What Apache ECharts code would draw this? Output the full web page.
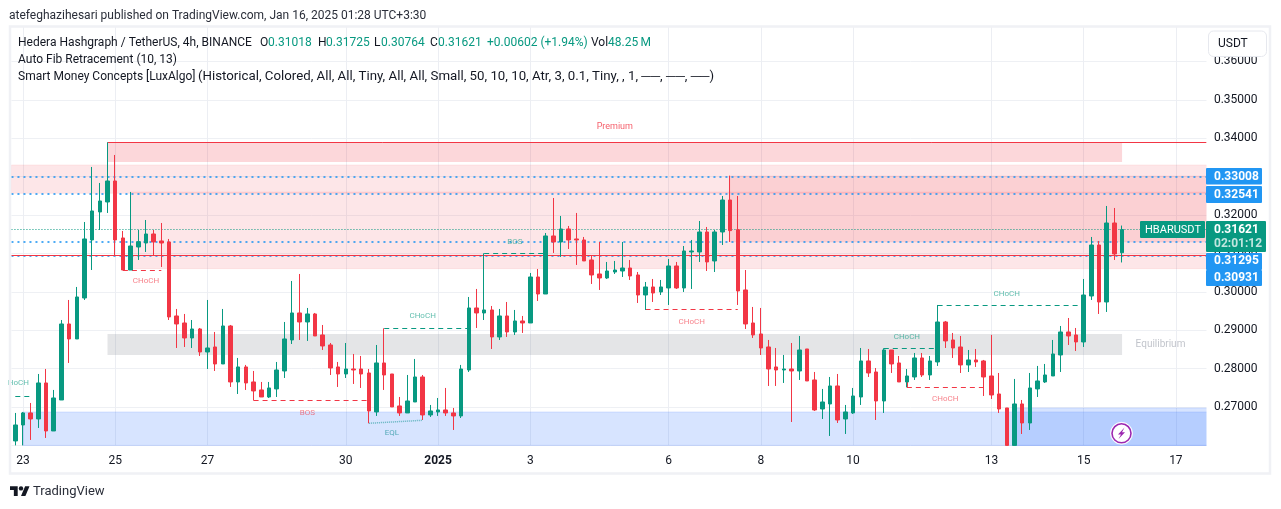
<!DOCTYPE html>
<html><head><meta charset="utf-8">
<style>html,body{margin:0;padding:0;background:#fff}#c{width:1281px;height:509px}</style>
<script src="https://cdn.jsdelivr.net/npm/echarts@6/dist/echarts.min.js"></script>
</head><body><div id="c"></div>
<script>
const opens=[.26116,.26532,.26845,.26688,.27626,.26376,.27183,.29162,.28772,.29839,
.31350,.32079,.32339,.32886,.31402,.30568,.31167,.31271,.31506,.31324,
.31298,.29371,.29188,.28798,.29032,.28433,.28563,.28121,.29110,.27652,
.28043,.27652,.27444,.27261,.27470,.27938,.28746,.29449,.29214,.29423,
.28876,.28615,.28043,.27860,.27990,.27990,.27886,.26871,.28147,.27860,
.27027,.26845,.27131,.27782,.26793,.26871,.26923,.26845,.26767,.27964,
.29579,.29449,.29527,.28824,.29371,.28954,.29240,.29188,.30386,.29943,
.31454,.31298,.31636,.31376,.31350,.30829,.30464,.30360,.30516,.30542,
.30620,.30438,.29917,.30126,.29996,.30100,.30673,.30100,.31037,.31037,
.31558,.30803,.31558,.32391,.31619,.30048,.29188,.28902,.28563,.28043,
.27964,.27990,.27938,.28511,.27704,.26949,.27079,.27548,.26688,.26845,
.27261,.28199,.27912,.27157,.28485,.28147,.27652,.27782,.28277,.27834,
.28173,.29214,.28746,.28563,.28095,.28225,.28199,.27808,.27339,.26975,
.26000,.27079,.26584,.27470,.27652,.27808,.28355,.28954,.28876,.28694,
.29891,.31219,.29735,.31792,.31018];
const closes=[.26532,.26845,.26688,.27626,.26376,.27235,.29162,.28772,.29865,.31376,
.32105,.32365,.32886,.31350,.30568,.31193,.31306,.31506,.31298,.31271,
.29345,.29162,.28798,.29032,.28433,.28537,.28121,.29110,.27652,.28043,
.27626,.27418,.27261,.27496,.27964,.28772,.29449,.29214,.29423,.28850,
.28589,.28016,.27860,.27990,.27964,.27860,.26897,.28147,.27834,.27001,
.26845,.27157,.27782,.26793,.26897,.26923,.26845,.26767,.27990,.29579,
.29449,.29527,.28824,.29371,.28954,.29240,.29188,.30386,.29943,.31454,
.31298,.31636,.31350,.31350,.30803,.30438,.30360,.30542,.30568,.30620,
.30412,.29917,.30126,.29969,.30126,.30673,.30100,.31063,.31063,.31558,
.30777,.31558,.32391,.31593,.30022,.29162,.28876,.28537,.27990,.27964,
.27990,.27938,.28485,.27678,.26923,.27131,.27548,.26662,.26871,.27287,
.28199,.27886,.27157,.28485,.28121,.27652,.27808,.28277,.27834,.28199,
.29214,.28720,.28537,.28095,.28225,.28173,.27782,.27313,.26949,.26000,
.27079,.26584,.27496,.27678,.27834,.28381,.28954,.28850,.28694,.29917,
.31219,.29735,.31792,.30985,.31621];
const lows=[.26000,.26000,.26142,.26454,.26194,.26376,.27183,.28147,.28772,.29787,
.30568,.31610,.32053,.30933,.30568,.30568,.30829,.31037,.30933,.30647,
.29266,.28537,.28563,.28537,.28329,.27990,.27938,.28121,.27522,.27339,
.27444,.27175,.27261,.27235,.27261,.27756,.28641,.28746,.28720,.28850,
.28485,.27834,.27522,.27756,.27600,.27496,.26576,.26767,.27444,.27001,
.26767,.26845,.27131,.26662,.26741,.26767,.26767,.26402,.26714,.27912,
.29058,.29266,.28511,.28746,.28824,.28876,.28928,.29188,.29761,.29943,
.31011,.30907,.31115,.30699,.30803,.30204,.30048,.30334,.30464,.30386,
.30308,.29709,.29527,.29735,.29917,.29657,.30074,.29996,.30074,.30777,
.30542,.30516,.31219,.31298,.29657,.29032,.28798,.28355,.27548,.27548,
.27626,.26610,.27704,.27678,.26897,.26688,.26246,.26584,.26298,.26819,
.27053,.27782,.26662,.26845,.27886,.27652,.27513,.27704,.27782,.27704,
.28069,.28537,.28277,.27886,.27912,.28043,.27287,.27209,.26845,.26000,
.26000,.26298,.26402,.27261,.27626,.27808,.27912,.28615,.28459,.28563,
.29787,.29423,.29475,.30829,.30764];
const highs=[.26845,.26871,.27105,.27860,.27990,.27444,.29266,.29787,.30126,.31818,
.33251,.32834,.33893,.33563,.31584,.32600,.31610,.31870,.31610,.31792,
.31376,.29553,.29423,.29266,.29058,.29787,.28954,.29553,.29136,.28277,
.28095,.27938,.27652,.27652,.28173,.29214,.30282,.30464,.29579,.29449,
.29136,.28667,.28173,.28667,.28381,.28329,.27990,.28615,.29049,.27860,
.27261,.27834,.28251,.27834,.27053,.27235,.27496,.26975,.28095,.29865,
.30074,.31002,.29631,.29553,.29735,.29527,.29371,.30490,.30594,.31532,
.32443,.31975,.31714,.32053,.31428,.30933,.31298,.30777,.30803,.31298,
.30829,.30516,.30256,.30334,.30308,.30855,.30777,.31193,.31350,.31844,
.31688,.31610,.32495,.33025,.32495,.30568,.29605,.29579,.28746,.28537,
.28355,.28667,.28850,.28511,.27912,.27470,.27782,.27860,.27053,.27496,
.28537,.28511,.28016,.28529,.28485,.28329,.27990,.28407,.28407,.28329,
.29657,.29240,.28928,.28850,.28485,.28511,.28225,.28876,.27886,.26975,
.27730,.27183,.27886,.28069,.28121,.28746,.29110,.29318,.29058,.30334,
.31428,.31324,.32235,.32183,.31725];

const barCount=156;
const tickBars=[1,13,25,43,55,67,85,97,109,127,139,151];
const tickLabels=['23','25','27','30','2025','3','6','8','10','13','15','17'];
const priceLevels=[.33008,.32541,.31295,.30931];
const lastPrice=.31621, redLevel=.30950, premiumTop=.33900;
// [from bar, to bar (null = pane edge), top, bottom, kind]
const zones=[
 [null,null,.33303,.32565,'fib'],
 [15,null,.32600,.30603,'fib'],
 [93,null,.33016,.31298,'fib'],
 [12,144,.33900,.33381,'premium'],
 [12,144,.28902,.28355,'eq'],
 [1,null,.26871,.26,'disc'],
 [130,null,.26975,.26,'disc']
];
// [from bar, to bar, from value, to value, kind]
const segments=[
 [12,155,premiumTop,premiumTop,'rs'],
 [0,2,.27279,.27279,'gd'],
 [14,19,.30560,.30560,'rd'],
 [31,46,.27175,.27175,'rd'],
 [31,31,.27444,.27175,'rd'],
 [48,59,.29049,.29049,'gd'],
 [46,53,.26576,.26654,'eql'],
 [61,69,.31002,.31002,'gd'],
 [82,94,.29544,.29544,'rd'],
 [82,82,.29917,.29544,'rd'],
 [113,120,.28520,.28520,'gd'],
 [116,126,.27513,.27513,'rd'],
 [116,116,.27652,.27513,'rd'],
 [120,139,.29648,.29648,'gd']
];
// [bar, value, text, kind]
const notes=[
 [78,.34292,'Premium','p'],[149,.28615,'Equilibrium','e'],[0,.27625,'HoCH','g'],
 [17,.30281,'CHoCH','r'],[38,.26844,'BOS','r'],[53,.29370,'CHoCH','g'],[49,.26323,'EQL','t'],
 [65,.31297,'BOS','g'],[88,.29214,'CHoCH','r'],[116,.28823,'CHoCH','g'],[121,.27208,'CHoCH','r'],[129,.29943,'CHoCH','g']
];
const headerTitle='atefeghazihesari published on TradingView.com, Jan 16, 2025 01:28 UTC+3:30';
const legendLine2='Auto Fib Retracement (10, 13)';
const legendLine3a='Smart Money Concepts [LuxAlgo]';
const legendLine3b='(Historical, Colored, All, All, Tiny, All, All, Small, 50, 10, 10, Atr, 3, 0.1, Tiny, , 1, ──, ──, ──)';

const UP='#089981',DOWN='#F23645',BLUE='#2196F3',INK='#131722',FONT='Roboto';
const categories=Array.from({length:barCount},(_,i)=>String(i));
const candles=opens.map((o,i)=>[o,closes[i],lows[i],highs[i]]);
const zoneStyle={fib:{color:'rgba(242,54,69,.125)',borderColor:'rgba(242,54,69,.08)',borderWidth:1},
 premium:{color:'rgba(242,54,69,.2)'},eq:{color:'rgba(120,123,134,.2)'},
 disc:{color:'rgba(41,110,255,.19)',borderColor:'rgba(41,98,255,.15)',borderWidth:1}};
const segStyle={rs:{color:DOWN,type:'solid',width:1},gd:{color:UP,type:[5,4],width:1},rd:{color:DOWN,type:[5,4],width:1},eql:{color:'#5fb3bd',type:[1,1],width:1.5}};
const noteColor={p:DOWN,r:'rgba(242,54,69,.8)',g:'rgba(8,153,129,.8)',t:'rgba(20,140,150,.85)',e:'#B2B5BE'};

const legendItem=(x,y,text,fill)=>({type:'text',z:100,style:{x,y,text,fill:fill||INK,font:'12px '+FONT,textVerticalAlign:'middle'}});
const tag=(x,y,w,h,color)=>({type:'rect',z:90,shape:{x,y,width:w,height:h,r:1},style:{fill:color}});
const tagText=(x,y,text,fill,font)=>({type:'text',z:91,style:{x,y,text,fill:fill||'#fff',font:(font||'bold 12px')+' '+FONT,textVerticalAlign:'middle'}});

const graphic=[
 {type:'rect',z:80,shape:{x:0,y:0,width:1281,height:26},style:{fill:'#fff'}},
 {type:'rect',z:80,shape:{x:1206.5,y:20,width:7,height:430},style:{fill:'#fff'}},
 {type:'rect',z:81,shape:{x:10,y:26.5,width:1260,height:447},style:{fill:'none',stroke:'#F0F1F5',lineWidth:2.5}},
 {type:'rect',z:90,shape:{x:1208.5,y:31,width:58,height:25.5,r:5},style:{fill:'#fff',stroke:'#E6E8EE',lineWidth:1}},
 {type:'text',z:91,style:{x:1218,y:44,text:'USDT',fill:INK,font:'12px '+FONT,textVerticalAlign:'middle'}},
 legendItem(9,16,headerTitle,'#2a2e39'),
 legendItem(18,43,'Hedera Hashgraph / TetherUS, 4h, BINANCE'),
 legendItem(260,43,'O'),legendItem(268,43,'0.31018',UP),
 legendItem(318,43,'H'),legendItem(326,43,'0.31725',UP),
 legendItem(374,43,'L'),legendItem(381,43,'0.30764',UP),
 legendItem(430,43,'C'),legendItem(438,43,'0.31621',UP),
 legendItem(487,43,'+0.00602 (+1.94%)',UP),
 legendItem(591,43,'Vol'),legendItem(608,43,'48.25\u2009M',UP),
 legendItem(18,60,legendLine2),legendItem(18,77,legendLine3a),
 {type:'text',z:100,x:198,y:77,scaleX:1.105,style:{x:0,y:0,text:legendLine3b,fill:INK,font:'12px '+FONT,textVerticalAlign:'middle'}},
 tag(1140,221,65,17,UP),tagText(1145,230,'HBARUSDT','#fff','11px'),
 tag(1206,168,56,16.5,BLUE),tagText(1214,176.5,'0.33008'),
 tag(1206,186,56,17,BLUE),tagText(1214,194.5,'0.32541'),
 tag(1206,221,60,31,UP),tagText(1214,230,'0.31621'),
 {type:'text',z:91,style:{x:1214,y:244,text:'02:01:12',fill:'rgba(255,255,255,.75)',font:'bold 12px '+FONT,textVerticalAlign:'middle'}},
 tag(1206,253,56,17,BLUE),tagText(1214,261,'0.31295'),
 tag(1206,270,56,16,BLUE),tagText(1214,278,'0.30931'),
 {type:'circle',z:90,shape:{cx:1121.5,cy:433.3,r:11},style:{fill:'#fff',stroke:'rgba(255,255,255,.7)',lineWidth:1}},
 {type:'circle',z:91,shape:{cx:1121.5,cy:433.3,r:9.5},style:{fill:'#fff',stroke:'#9C27B0',lineWidth:1.6}},
 {type:'polygon',z:92,shape:{points:[[1124.5,427.5],[1118,434.5],[1121,434.5],[1118.5,439],[1125,432.3],[1122,432.3]]},style:{fill:'#9C27B0'}},
 {type:'group',x:10,y:484,scaleX:.55,scaleY:.55,z:90,children:[
  {type:'polygon',shape:{points:[[0,4],[14,4],[14,22],[7,22],[7,11],[0,11]]},style:{fill:INK}},
  {type:'polygon',shape:{points:[[27.5,4],[35.5,4],[28,22],[20,22]]},style:{fill:INK}},
  {type:'circle',shape:{cx:20,cy:8,r:4},style:{fill:INK}}]},
 {type:'text',z:90,style:{x:33,y:492,text:'TradingView',fill:'#2a2e39',font:'13px '+FONT,textVerticalAlign:'middle'}}
];

const chart=echarts.init(document.getElementById('c'),null,{renderer:'canvas'});
chart.setOption({
 animation:false,
 grid:{left:11.46,width:1199,top:23,bottom:63.6,containLabel:false},
 graphic:{elements:graphic},
 xAxis:{type:'category',data:categories,boundaryGap:true,
  axisLine:{show:false},axisTick:{show:false},
  axisLabel:{color:INK,fontFamily:FONT,fontSize:12,margin:10,
   interval:(i)=>tickBars.includes(i),hideOverlap:false,
   formatter:(v,i)=>{const k=tickBars.indexOf(i);if(k<0)return '';return tickLabels[k]==='2025'?'{b|2025}':tickLabels[k];},
   rich:{b:{fontWeight:'bold',fontFamily:FONT,fontSize:12,color:INK}}},
  splitLine:{show:true,alignWithLabel:true,interval:(i)=>tickBars.includes(i),lineStyle:{color:'#ECEEF3',width:1}}},
 yAxis:{type:'value',position:'right',min:.26,max:.37,interval:.01,scale:true,
  axisLine:{show:false},axisTick:{show:false},
  axisLabel:{color:INK,fontFamily:FONT,fontSize:12,margin:3.5,padding:[2,0,0,0],showMinLabel:false,showMaxLabel:false,formatter:v=>v.toFixed(5)},
  splitLine:{lineStyle:{color:'#EEF0F4',width:1}}},
 series:[{
  type:'candlestick',data:candles,barWidth:4,z:4,clip:true,
  itemStyle:{color:UP,color0:DOWN,borderColor:UP,borderColor0:DOWN,borderWidth:1},
  markArea:{silent:true,z:1,data:zones.map(([a,b,t,u,k])=>{
    const p={yAxis:t},q={yAxis:u};if(a!==null)p.xAxis=a;if(b!==null)q.xAxis=b;
    return [{...p,itemStyle:zoneStyle[k]},q];})},
  markLine:{silent:true,z:2,precision:6,symbol:'none',label:{show:false},data:[
   ...priceLevels.map(v=>({yAxis:v,lineStyle:{color:BLUE,width:2,type:[2,4],opacity:.8}})),
   {yAxis:lastPrice,lineStyle:{color:UP,width:1,type:[1,2]}},
   {yAxis:redLevel,lineStyle:{color:DOWN,width:1,type:'solid'}},
   ...segments.map(([a,b,u,v,k])=>[{xAxis:a,yAxis:u,lineStyle:segStyle[k]},{xAxis:b,yAxis:v}])
  ]}
 },{
  type:'scatter',symbolSize:0,silent:true,z:6,
  data:notes.map(([b,v,t,k])=>({value:[b,v],label:{show:true,position:'inside',formatter:t,offset:b===0?[3,0]:[0,0],
    color:noteColor[k],fontFamily:FONT,fontSize:k==='e'?10:(k==='p'?9:8)}}))
 }]
});
</script></body></html>
